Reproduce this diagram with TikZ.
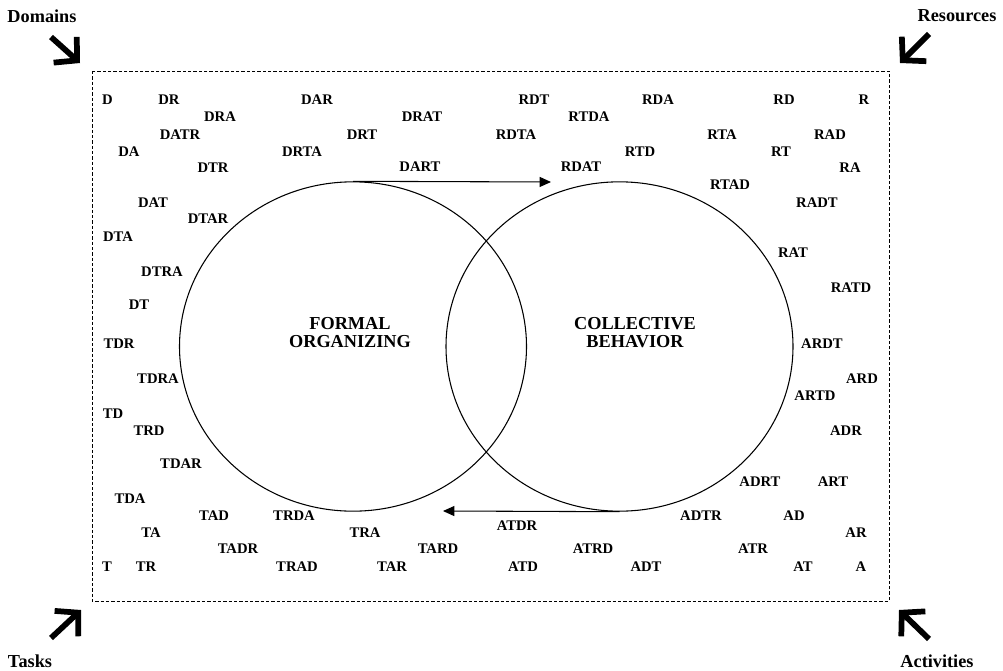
\documentclass[tikz,border=0pt]{standalone}
\usepackage{fontspec}
\setmainfont{Liberation Serif}
\usetikzlibrary{arrows.meta,shapes.geometric}
\begin{document}
\begin{tikzpicture}[x=0.75pt,y=-0.75pt]
   \tikzstyle{lbl} = [font=\fontsize{11}{13}\selectfont\bfseries, inner sep=0pt]
   \tikzstyle{big} = [font=\fontsize{13.7}{13.5}\selectfont\bfseries, inner sep=0pt, align=center]
   \tikzstyle{field} = [ellipse, draw, line width=0.8pt, minimum width=260.25pt, minimum height=247pt, inner sep=0pt]
   \tikzstyle{corner} = [line width=4.3pt, -{Straight Barb[length=12pt, width=26pt]}]

   \useasboundingbox (0,0) rectangle (1003,671);

   % the frame
   \draw[dashed, dash pattern=on 2.4pt off 1.6pt, line width=0.7pt] (92,71) rectangle (889,601);

   % the two fields
   \node[field] (formal) at (353,346.5) {};
   \node[field] (collective) at (619.5,346.5) {};
   \node[big] (formaltxt) at (350,333) {FORMAL\\ORGANIZING};
   \node[big] (collectivetxt) at (635,333) {COLLECTIVE\\BEHAVIOR};

   % corner titles
      \draw
        (42,16) node[big] (domains){Domains}
        (957,16) node[big] (resources){Resources}
        (30,661) node[big] (tasks){Tasks}
        (937,661) node[big] (activities){Activities};

   % combinations
      \draw
        (107.5,100) node[lbl] (D){D}
        (169,100) node[lbl] (DR){DR}
        (317,100) node[lbl] (DAR){DAR}
        (220,117) node[lbl] (DRA){DRA}
        (180,135) node[lbl] (DATR){DATR}
        (129,152) node[lbl] (DA){DA}
        (302,152) node[lbl] (DRTA){DRTA}
        (213,168) node[lbl] (DTR){DTR}
        (153,203) node[lbl] (DAT){DAT}
        (208,219) node[lbl] (DTAR){DTAR}
        (534,100) node[lbl] (RDT){RDT}
        (422,117) node[lbl] (DRAT){DRAT}
        (589,117) node[lbl] (RTDA){RTDA}
        (362,135) node[lbl] (DRT){DRT}
        (516,135) node[lbl] (RDTA){RDTA}
        (640,152) node[lbl] (RTD){RTD}
        (420,167) node[lbl] (DART){DART}
        (581,167) node[lbl] (RDAT){RDAT}
        (658,100) node[lbl] (RDA){RDA}
        (784,100) node[lbl] (RD){RD}
        (864,100) node[lbl] (R){R}
        (722,135) node[lbl] (RTA){RTA}
        (830,135) node[lbl] (RAD){RAD}
        (781,152) node[lbl] (RT){RT}
        (850,168) node[lbl] (RA){RA}
        (730,185) node[lbl] (RTAD){RTAD}
        (817,203) node[lbl] (RADT){RADT}
        (118,237) node[lbl] (DTA){DTA}
        (162,272) node[lbl] (DTRA){DTRA}
        (139,305) node[lbl] (DT){DT}
        (119,344) node[lbl] (TDR){TDR}
        (158,379) node[lbl] (TDRA){TDRA}
        (113,414) node[lbl] (TD){TD}
        (149,431) node[lbl] (TRD){TRD}
        (793,253) node[lbl] (RAT){RAT}
        (851,288) node[lbl] (RATD){RATD}
        (822,344) node[lbl] (ARDT){ARDT}
        (862,379) node[lbl] (ARD){ARD}
        (815,396) node[lbl] (ARTD){ARTD}
        (846,431) node[lbl] (ADR){ADR}
        (181,464) node[lbl] (TDAR){TDAR}
        (130,499) node[lbl] (TDA){TDA}
        (214,516) node[lbl] (TAD){TAD}
        (294,516) node[lbl] (TRDA){TRDA}
        (151,533) node[lbl] (TA){TA}
        (238,549) node[lbl] (TADR){TADR}
        (107,567) node[lbl] (T){T}
        (146,567) node[lbl] (TR){TR}
        (297,567) node[lbl] (TRAD){TRAD}
        (517,526) node[lbl] (ATDR){ATDR}
        (365,533) node[lbl] (TRA){TRA}
        (438,549) node[lbl] (TARD){TARD}
        (593,549) node[lbl] (ATRD){ATRD}
        (392,567) node[lbl] (TAR){TAR}
        (523,567) node[lbl] (ATD){ATD}
        (646,567) node[lbl] (ADT){ADT}
        (760,482) node[lbl] (ADRT){ADRT}
        (833,482) node[lbl] (ART){ART}
        (701,516) node[lbl] (ADTR){ADTR}
        (794,516) node[lbl] (AD){AD}
        (856,533) node[lbl] (AR){AR}
        (753,549) node[lbl] (ATR){ATR}
        (803,567) node[lbl] (AT){AT}
        (861,567) node[lbl] (A){A};

   \coordinate (dartend) at (551,182);
   \coordinate (atdrend) at (443,511);
   \coordinate (dtail) at (51,37);   \coordinate (dtip) at (80,63);
   \coordinate (rtail) at (929,34);  \coordinate (rtip) at (900,63);
   \coordinate (ttail) at (51,638);  \coordinate (ttip) at (81,610);
   \coordinate (atail) at (929,639); \coordinate (atip) at (899,610);

  \begin{scope}[line width=0.8pt, -{Triangle[length=8.5pt, width=7.5pt]}]
    \draw (formal.north) -- (dartend);
    \draw (collective.south) -- (atdrend);
  \end{scope}

  \begin{scope}[corner]
    \draw (dtail) -- (dtip);
    \draw (rtail) -- (rtip);
    \draw (ttail) -- (ttip);
    \draw (atail) -- (atip);
  \end{scope}
\end{tikzpicture}
\end{document}
